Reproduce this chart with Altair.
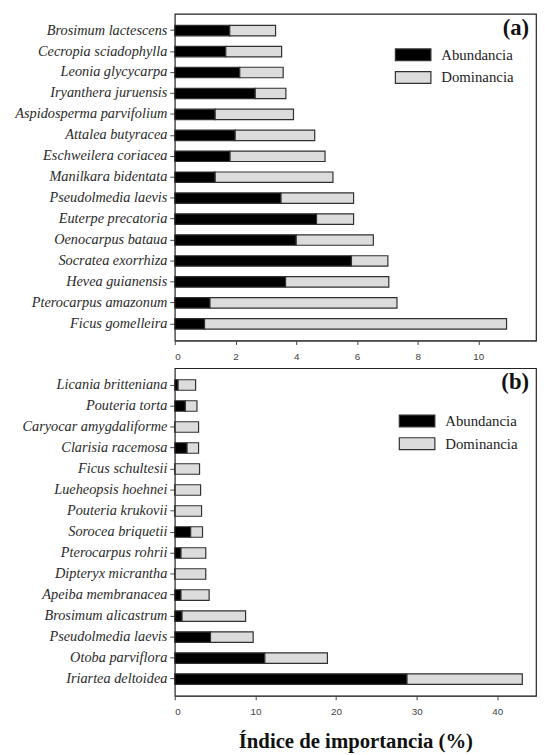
import altair as alt
import pandas as pd

# ---- data ----
especies_a = ["Brosimum lactescens", "Cecropia sciadophylla", "Leonia glycycarpa",
              "Iryanthera juruensis", "Aspidosperma parvifolium", "Attalea butyracea",
              "Eschweilera coriacea", "Manilkara bidentata", "Pseudolmedia laevis",
              "Euterpe precatoria", "Oenocarpus bataua", "Socratea exorrhiza",
              "Hevea guianensis", "Pterocarpus amazonum", "Ficus gomelleira"]
abund_a = [1.81, 1.68, 2.14, 2.65, 1.33, 1.99, 1.82, 1.33, 3.50, 4.67, 4.00, 5.82, 3.65, 1.16, 0.98]
domin_a = [1.51, 1.84, 1.43, 1.01, 2.58, 2.62, 3.13, 3.88, 2.39, 1.22, 2.54, 1.20, 3.40, 6.16, 9.95]

especies_b = ["Licania britteniana", "Pouteria torta", "Caryocar amygdaliforme",
              "Clarisia racemosa", "Ficus schultesii", "Lueheopsis hoehnei",
              "Pouteria krukovii", "Sorocea briquetii", "Pterocarpus rohrii",
              "Dipteryx micrantha", "Apeiba membranacea", "Brosimum alicastrum",
              "Pseudolmedia laevis", "Otoba parviflora", "Iriartea deltoidea"]
abund_b = [0.41, 1.31, 0.05, 1.52, 0.05, 0.05, 0.05, 1.97, 0.77, 0.05, 0.77, 0.90, 4.43, 11.17, 28.8]
domin_b = [2.17, 1.44, 2.90, 1.43, 3.02, 3.15, 3.27, 1.47, 3.07, 3.79, 3.49, 7.88, 5.29, 7.76, 14.3]

series = ["Abundancia", "Dominancia"]
colores = ["#000000", "#dcdcdc"]

SERIF = "Liberation Serif"
SANS = "Liberation Sans"


def long_df(especies, abund, domin):
    rows = []
    for e, a, d in zip(especies, abund, domin):
        rows.append({"especie": e, "tipo": "Abundancia", "valor": a, "orden": 0})
        rows.append({"especie": e, "tipo": "Dominancia", "valor": d, "orden": 1})
    return pd.DataFrame(rows)


def panel(especies, abund, domin, xmax, xticks, etiqueta, height, show_title, leg_y, leg_x):
    df = long_df(especies, abund, domin)
    W = 366
    bars = alt.Chart(df).mark_bar(stroke="#303030", strokeWidth=1.2).encode(
        y=alt.Y("especie:N", sort=especies,
                scale=alt.Scale(paddingInner=0.5, paddingOuter=0.55),
                axis=alt.Axis(title=None, labelFont=SERIF, labelFontStyle="italic",
                              labelFontSize=14.5, labelColor="#2a2a2a", labelLimit=200,
                              tickSize=5, tickColor="#444", domain=False,
                              labelPadding=3, minExtent=168, maxExtent=168)),
        x=alt.X("valor:Q", stack="zero",
                scale=alt.Scale(domain=[0, xmax], nice=False, zero=True),
                axis=alt.Axis(values=xticks, grid=False, format="d",
                              title="Índice de importancia (%)" if show_title else None,
                              titleFont=SERIF, titleFontSize=21, titleFontWeight="bold",
                              titleColor="#111", titlePadding=14,
                              labelFont=SANS, labelFontSize=10, labelColor="#444",
                              tickSize=4, tickColor="#444", domainColor="#444",
                              labelPadding=7)),
        color=alt.Color("tipo:N",
                        scale=alt.Scale(domain=series, range=colores),
                        legend=alt.Legend(title=None, orient="none",
                                          legendX=leg_x, legendY=leg_y, padding=0,
                                          symbolType="M-3,-1H3V1H-3Z", symbolSize=144,
                                          symbolStrokeColor="#303030", symbolStrokeWidth=1.2,
                                          labelOffset=21, labelFont=SERIF, labelFontSize=15,
                                          labelColor="#222", rowPadding=6)),
        order=alt.Order("orden:Q"),
    )
    lbl = alt.Chart(pd.DataFrame({"t": [etiqueta]})).mark_text(
        font=SERIF, fontSize=23, fontWeight="bold", align="right", baseline="middle",
        color="#111"
    ).encode(text="t:N", x=alt.value(W - 7), y=alt.value(14))
    return alt.layer(bars, lbl).properties(width=W, height=height)


top = panel(especies_a, abund_a, domin_a, 11.9, [0, 2, 4, 6, 8, 10], "(a)", 331, False, 34, 234)
bot = panel(especies_b, abund_b, domin_b, 44.8, [0, 10, 20, 30, 40], "(b)", 332, True, 46, 238)

chart = alt.vconcat(top, bot, spacing=5).resolve_scale(color="independent").configure(
    padding=0
).configure_view(stroke="#222", strokeWidth=1.2).configure_concat(spacing=5)

chart.save("out.html", embed_options={"renderer": "svg", "actions": False})
